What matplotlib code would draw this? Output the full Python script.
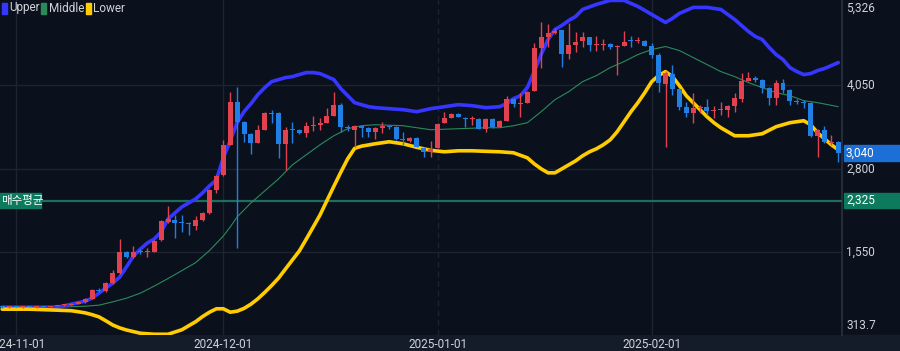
import numpy as np
import matplotlib
matplotlib.use("Agg")
import matplotlib.pyplot as plt
from matplotlib.patches import Rectangle
from matplotlib.transforms import blended_transform_factory

# Daily candles, day 0 = 2024-11-01 (first candle is 2024-10-30)
first_day = -2
opens = [735, 728, 736, 731, 739, 734, 741, 737, 748, 762,
         768, 782, 805, 852, 990, 970, 1090, 1240, 1555, 1480,
         1560, 1550, 1560, 1735, 2005, 2035, 1995, 1985, 1945, 2035,
         2140, 2485, 2710, 3160, 3805, 3505, 3325, 3190, 3385, 3640,
         3630, 3175, 3390, 3385, 3340, 3440, 3460, 3490, 3595, 3760,
         3425, 3385, 3445, 3415, 3355, 3415, 3435, 3430, 3250, 3220,
         3265, 3115, 3055, 3115, 3490, 3565, 3625, 3565, 3550, 3550,
         3400, 3550, 3430, 3520, 3850, 3775, 3790, 3970, 4615, 4765,
         4825, 4870, 4525, 4660, 4720, 4765, 4655, 4660, 4675, 4625,
         4645, 4720, 4710, 4720, 4645, 4510, 4075, 4225, 4000, 3730,
         3640, 3710, 3730, 3665, 3680, 3685, 3745, 3850, 4120, 4165,
         4135, 4015, 3865, 4090, 3985, 3805, 3795, 3790, 3295, 3385,
         3190, 3205]
highs = [745, 742, 748, 744, 750, 746, 752, 755, 770, 778,
         790, 815, 865, 1000, 1015, 1100, 1285, 1750, 1570, 1645,
         1600, 1615, 1735, 2040, 2245, 2110, 2110, 2005, 2095, 2150,
         2495, 2710, 3235, 3955, 4030, 3520, 3340, 3460, 3655, 3685,
         3650, 3430, 3505, 3400, 3505, 3595, 3565, 3715, 3955, 3790,
         3460, 3460, 3460, 3425, 3425, 3505, 3460, 3440, 3355, 3280,
         3275, 3120, 3220, 3490, 3655, 3640, 3635, 3575, 3595, 3560,
         3560, 3560, 3530, 3895, 3860, 3940, 3965, 4690, 4990, 4960,
         4900, 4880, 4975, 4840, 4840, 4775, 4780, 4735, 4690, 4660,
         4855, 4780, 4765, 4730, 4690, 4530, 4270, 4360, 4010, 3805,
         3940, 3760, 3850, 3745, 3805, 3760, 3940, 4240, 4255, 4195,
         4145, 4025, 4135, 4150, 3995, 3850, 3835, 3805, 3400, 3445,
         3310, 3215]
lows = [722, 720, 726, 722, 728, 725, 732, 730, 742, 752,
        760, 772, 798, 845, 955, 960, 1080, 1230, 1460, 1470,
        1520, 1480, 1550, 1720, 1990, 1765, 1855, 1810, 1885, 2020,
        2130, 2440, 2700, 3150, 1615, 3205, 3025, 3180, 3375, 3490,
        2965, 2785, 3190, 3320, 3280, 3370, 3385, 3480, 3590, 3355,
        3370, 3130, 3280, 3280, 3250, 3340, 3400, 3235, 3160, 3200,
        3120, 2980, 2980, 3105, 3480, 3555, 3570, 3430, 3460, 3390,
        3355, 3415, 3420, 3510, 3730, 3580, 3780, 3960, 4315, 4630,
        4815, 4330, 4450, 4555, 4630, 4570, 4570, 4585, 4600, 4210,
        4635, 4630, 4690, 4640, 4465, 3955, 3130, 3910, 3685, 3580,
        3490, 3640, 3610, 3565, 3610, 3580, 3655, 3805, 4110, 4105,
        3940, 3760, 3760, 3940, 3760, 3775, 3715, 3280, 2980, 3190,
        3160, 2905]
closes = [728, 736, 731, 739, 734, 741, 737, 748, 762, 768,
          782, 805, 850, 985, 975, 1090, 1240, 1555, 1480, 1555,
          1550, 1560, 1720, 2020, 2050, 1990, 1988, 1975, 2035, 2140,
          2485, 2695, 3160, 3805, 3505, 3325, 3190, 3385, 3640, 3620,
          3175, 3385, 3380, 3340, 3445, 3450, 3490, 3595, 3760, 3430,
          3415, 3445, 3415, 3355, 3415, 3445, 3430, 3250, 3235, 3265,
          3130, 3055, 3100, 3475, 3565, 3625, 3580, 3550, 3565, 3400,
          3550, 3430, 3520, 3850, 3775, 3790, 3955, 4615, 4765, 4825,
          4855, 4525, 4660, 4705, 4765, 4660, 4665, 4670, 4630, 4635,
          4705, 4710, 4720, 4645, 4510, 4090, 4240, 4000, 3730, 3640,
          3715, 3720, 3670, 3675, 3690, 3745, 3865, 4120, 4165, 4135,
          4015, 3865, 4090, 3985, 3820, 3800, 3790, 3295, 3385, 3205,
          3205, 3040]

# Bollinger bands (day, value)
upper_pts = [(-2, 730), (0, 730), (2, 730), (4, 730), (6, 730), (8, 775), (10, 820), (11, 865),
             (12, 940), (13, 1015), (14, 1090), (15, 1180), (16, 1335), (17, 1495), (18, 1600),
             (19, 1690), (20, 1750), (21, 1855), (22, 2050), (23, 2140), (24, 2230), (25, 2290),
             (26, 2350), (27, 2440), (28, 2545), (29, 2635), (30, 2965), (31, 3220), (32, 3490),
             (33, 3655), (34, 3775), (35, 3910), (36, 4015), (37, 4105), (38, 4135), (39, 4165),
             (40, 4180), (41, 4210), (42, 4240), (43, 4240), (44, 4225), (45, 4180), (46, 4135),
             (47, 4000), (48, 3895), (49, 3790), (50, 3760), (51, 3730), (52, 3715), (54, 3700),
             (56, 3685), (58, 3655), (60, 3700), (62, 3730), (64, 3760), (66, 3745), (68, 3715),
             (70, 3730), (71, 3775), (72, 3850), (73, 3895), (74, 4015), (75, 4255), (76, 4510),
             (77, 4735), (78, 4885), (79, 4945), (80, 5020), (81, 5080), (82, 5185), (84, 5260),
             (86, 5320), (88, 5320), (90, 5230), (92, 5110), (94, 4990), (95, 5050), (96, 5125),
             (98, 5215), (100, 5215), (102, 5185), (104, 5035), (106, 4855), (107, 4780),
             (108, 4735), (109, 4615), (110, 4510), (111, 4435), (112, 4315), (113, 4255),
             (114, 4210), (115, 4225), (116, 4270), (117, 4300), (118, 4345), (119, 4390)]
middle_pts = [(-2, 730), (2, 730), (6, 730), (8, 737), (10, 745), (12, 760), (14, 810), (16, 865),
              (18, 940), (20, 1045), (22, 1159), (24, 1277), (26, 1397), (28, 1577), (30, 1795),
              (31, 1930), (32, 2080), (34, 2290), (36, 2470), (38, 2650), (40, 2860), (42, 3010),
              (44, 3160), (46, 3295), (48, 3400), (50, 3445), (52, 3460), (56, 3445), (60, 3385),
              (64, 3400), (68, 3415), (70, 3415), (72, 3445), (74, 3490), (76, 3655), (78, 3835),
              (80, 3955), (82, 4105), (84, 4195), (86, 4315), (88, 4405), (90, 4510), (92, 4585),
              (94, 4630), (96, 4570), (98, 4465), (100, 4360), (102, 4255), (104, 4180),
              (106, 4090), (108, 4015), (110, 3940), (112, 3895), (114, 3820), (116, 3790),
              (119, 3730)]
lower_pts = [(-2, 700), (2, 700), (6, 685), (8, 677), (9, 662), (10, 645), (11, 618), (12, 585),
             (13, 526), (14, 463), (15, 420), (16, 388), (18, 340), (20, 325), (22, 325),
             (24, 392), (26, 513), (27, 590), (28, 655), (29, 706), (30, 706), (31, 655),
             (32, 670), (33, 712), (34, 775), (35, 856), (36, 952), (37, 1055), (38, 1166),
             (39, 1302), (40, 1437), (41, 1571), (42, 1747), (43, 1928), (44, 2110), (45, 2326),
             (46, 2539), (47, 2749), (48, 2950), (49, 3106), (50, 3139), (52, 3175), (54, 3205),
             (56, 3175), (58, 3122), (60, 3077), (62, 3055), (64, 3070), (66, 3070), (68, 3062),
             (70, 3055), (72, 3040), (74, 2965), (75, 2875), (76, 2800), (77, 2740), (78, 2740),
             (79, 2800), (80, 2860), (81, 2920), (82, 2995), (83, 3055), (84, 3100), (85, 3160),
             (86, 3235), (87, 3355), (88, 3505), (89, 3655), (90, 3790), (91, 3940), (92, 4105),
             (93, 4195), (94, 4255), (95, 4180), (96, 4045), (97, 3895), (98, 3790), (99, 3685),
             (100, 3580), (101, 3490), (102, 3415), (104, 3295), (106, 3295), (108, 3325),
             (110, 3430), (112, 3490), (114, 3520), (115, 3460), (116, 3340), (117, 3250),
             (118, 3160), (119, 3085)]

avg_buy = 2325
last_price = 3040
y_max, y_min = 5326, 313.7
grid_levels = [4050, 2800, 1550]
month_days = [0, 30, 61, 92]
month_labels = ['2024-11-01', '2024-12-01', '2025-01-01', '2025-02-01']

# Colours
bg = '#0a111d'
strip = '#151c29'
txt = '#cfd3da'
red = '#e2424f'
blue = '#1f7fe5'
c_upper = '#3636ff'
c_middle = '#2b8a5a'
c_lower = '#ffcc00'
teal = '#0d7a5d'

W, H = 900, 351
fig = plt.figure(figsize=(W / 100, H / 100), dpi=100, facecolor=bg)
fig.patches.append(Rectangle((0, 0), 1, 16 / H, transform=fig.transFigure, color=strip, zorder=-5))
ax = fig.add_axes([0, 16 / H, 842 / W, 335 / H])
ax.set_facecolor(bg)

ax.set_xlim(-2.32, 119.54)
ax.set_ylim(y_min, y_max)
for s in ax.spines.values():
    s.set_visible(False)
ax.set_xticks([])
ax.set_yticks([])
ax.axvline(119.54, color='#2a323f', lw=1.2, clip_on=False)

# Grid
for lv in grid_levels:
    ax.axhline(lv, color='#1d2430', lw=1, zorder=1)
for d in month_days:
    ls = (0, (4, 3)) if d == 61 else '-'
    ax.axvline(d, color='#1d2430', lw=1, ls=ls, zorder=1)

# Bands
for pts, col, lw in [(middle_pts, c_middle, 0.8), (upper_pts, c_upper, 2.6), (lower_pts, c_lower, 2.6)]:
    bx, by = zip(*pts)
    ax.plot(bx, by, color=col, lw=lw, zorder=3, solid_capstyle='round', solid_joinstyle='round')

# Candles
days = np.arange(first_day, first_day + len(opens))
o = np.array(opens)
c = np.array(closes)
colors = np.where(c >= o, red, blue)
ax.vlines(days, lows, highs, colors=colors, lw=1, zorder=4)
ax.bar(days, np.maximum(np.abs(c - o), 15), bottom=np.minimum(o, c), width=0.72,
       color=colors, linewidth=0, zorder=5)

# Average buy line
ax.axhline(avg_buy, color='#1e6e5b', lw=1.6, zorder=2)

# Right axis labels
yt = ax.get_yaxis_transform()
font = dict(family='Roboto', fontsize=8.5, color=txt)
for lv in grid_levels:
    ax.text(1.005, lv, f'{lv:,}', transform=yt, va='center', ha='left', clip_on=False, **font)
ax.annotate(f'{y_max:,}', (1.005, y_max), xycoords=yt, xytext=(0, -1), textcoords='offset points',
            va='top', ha='left', annotation_clip=False, **font)
ax.annotate(f'{y_min:,}', (1.005, y_min), xycoords=yt, xytext=(0, 2), textcoords='offset points',
            va='bottom', ha='left', annotation_clip=False, **font)

# Value boxes
bt = blended_transform_factory(fig.transFigure, ax.transData)
box_h = 15.5 * (y_max - y_min) / 335
for val, col in [(last_price, '#1b6fd6'), (avg_buy, teal)]:
    fig.add_artist(Rectangle((844 / W, val - box_h / 2), 56 / W, box_h, transform=bt, color=col, zorder=6))
    fig.text(846 / W, val, f'{val:,}', transform=bt, va='center', ha='left', zorder=7,
             family='Roboto', fontsize=8.5, color='white')
fig.add_artist(Rectangle((0, avg_buy - box_h / 2), 41 / W, box_h, transform=bt, color=teal, zorder=6))
fig.text(1 / W, avg_buy, '매수평균', transform=bt, va='center', ha='left', zorder=7,
         family=['Noto Sans CJK KR', 'DejaVu Sans'], fontsize=8.3, color='white')

# X labels
for d, lab in zip(month_days, month_labels):
    ax.annotate(lab, (d, 0), xycoords=ax.get_xaxis_transform(), xytext=(0, -6.5),
                textcoords='offset points', ha='center', va='center', annotation_clip=False, **font)

# Legend
def px(x, y):
    return x / W, 1 - y / H

legend = [('Upper', c_upper, 1.5, 9), ('Middle', c_middle, 41, 49), ('Lower', c_lower, 86, 93)]
for name, col, sx, tx in legend:
    fig.patches.append(Rectangle(px(sx, 14), 5 / W, 11 / H, transform=fig.transFigure, color=col))
    fig.text(*px(tx, 8), name, va='center', ha='left', **font)

fig.savefig('out.png', dpi=100, facecolor=bg)
